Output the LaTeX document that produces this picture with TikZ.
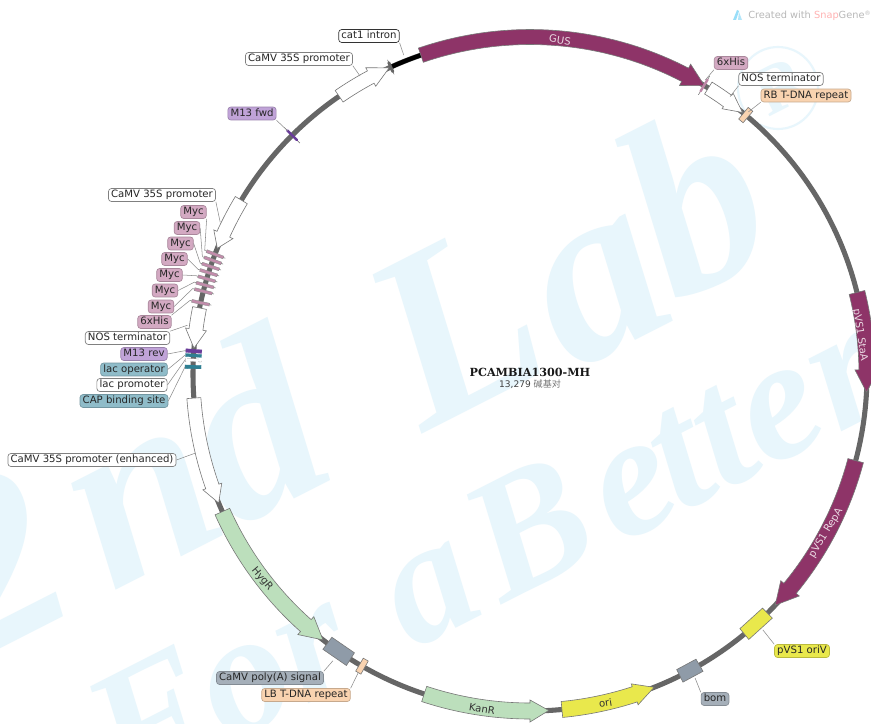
\documentclass[tikz,border=0pt]{standalone}
\usepackage{fontspec}
\setmainfont{DejaVu Sans}
\newfontfamily\cjkf{Noto Sans CJK SC}
\newfontfamily\titlef{DejaVu Serif}
\newfontfamily\wmf{Liberation Serif}
\definecolor{ringc}{HTML}{666666}
\definecolor{edgec}{HTML}{777777}
\definecolor{plumc}{HTML}{8E3468}
\definecolor{greenc}{HTML}{BCDFBC}
\definecolor{yellowc}{HTML}{E9E84C}
\definecolor{slatec}{HTML}{8F9BA8}
\definecolor{pinkc}{HTML}{D3A9C2}
\definecolor{purplec}{HTML}{C0A3D8}
\definecolor{darkpurple}{HTML}{6A3D9A}
\definecolor{tealc}{HTML}{8FBCC9}
\definecolor{darkteal}{HTML}{2F7F92}
\definecolor{tanc}{HTML}{F9D3B0}
\definecolor{wmc}{HTML}{E8F6FC}
\tikzset{
  lab/.style={rounded corners=2.2pt,draw=#1!80!black,fill=#1,line width=0.5pt,inner xsep=2pt,inner ysep=1.2pt,font=\fontsize{7.6}{9}\selectfont,text=black!85,text height=5.8pt,text depth=1.5pt},
  wlab/.style={lab=white,draw=black!50},
  blacklab/.style={lab=white,draw=black!80},
  leader/.style={draw=black!45,line width=0.4pt},
  body/.style={draw=edgec,line width=0.45pt},
  ontext/.style={font=\fontsize{7.6}{9}\selectfont},
  wm/.style={text=wmc,inner sep=0pt}
}
\def\Rr{337}
% #1 start, #2 end, #3 head degrees (signed), #4 half width, #5 wing half width, #6 style
\newcommand\fArrow[6]{%
  \pgfmathsetmacro\bone{#2-(#3)}%
  \pgfmathsetmacro\ro{\Rr+#4}\pgfmathsetmacro\ri{\Rr-#4}%
  \pgfmathsetmacro\wo{\Rr+#5}\pgfmathsetmacro\wi{\Rr-#5}%
  \draw[#6] plot[domain=#1:\bone,samples=40] (\x:\ro) -- (\bone:\wo) -- (#2:\Rr) -- (\bone:\wi) -- plot[domain=\bone:#1,samples=40] (\x:\ri) -- cycle;}
\newcommand\fBand[4]{%
  \pgfmathsetmacro\ro{\Rr+#3}\pgfmathsetmacro\ri{\Rr-#3}%
  \draw[#4] (#1:\ro) -- (#2:\ro) -- (#2:\ri) -- (#1:\ri) -- cycle;}
\newcommand\fTick[4]{% angle, half length, colour, thickness
  \pgfmathsetmacro\ro{\Rr+#2}\pgfmathsetmacro\ri{\Rr-#2}%
  \pgfmathsetmacro\ra{\Rr+#2*0.62}\pgfmathsetmacro\rb{\Rr-#2*0.62}%
  \draw[black!60,line width=0.35pt] (#1:\ro) -- (#1:\ri);
  \draw[#3,line width=#4,line cap=round] (#1:\ra) -- (#1:\rb);}
\newcommand\fMyc[1]{%
  \pgfmathsetmacro\ro{\Rr+11}\pgfmathsetmacro\ri{\Rr-11}%
  \draw[black!60,line width=0.35pt] (#1:\ro) -- (#1:\ri);
  \pgfmathsetmacro\au{#1+0.25}\pgfmathsetmacro\ad{#1-0.25}%
  \fBand{\au}{\ad}{9}{fill=pinkc!75!plumc,draw=black!45,line width=0.25pt}}
\begin{document}
\begin{tikzpicture}[x=0.75pt,y=-0.75pt]
\useasboundingbox (0,0) rectangle (871,724);
\clip (0,0) rectangle (871,724);
\fill[white] (0,0) rectangle (871,724);
% watermark
\node[wm,anchor=base west,rotate=27,font=\wmf\bfseries\itshape\fontsize{188}{188}\selectfont] (wmone) at (-27,663) {2\hspace{22pt}n\hspace{-2pt}d\hspace{20pt} L\hspace{5pt}\raisebox{-10pt}{a}\hspace{-2pt}b};
\node[wm,anchor=base west,rotate=27,font=\wmf\bfseries\itshape\fontsize{130}{130}\selectfont] (wmtwo) at (125,797) {For\hspace{7pt} a\hspace{-22pt} B\hspace{12pt}e\hspace{-6pt}t\hspace{0pt}t\hspace{0pt}e\hspace{3pt}r};
\draw[wmc,line width=1.6pt] (778,88) circle[x radius=40,y radius=41];
\node[wm,rotate=27,font=\wmf\bfseries\fontsize{52}{52}\selectfont] (wmr) at (780,86) {R};
% credit
\path[fill=cyan!40] (733,20) -- (737,10) -- (739,11) -- (736,20) -- cycle;
\path[fill=cyan!30] (739,12) -- (742,20) -- (738,20) -- cycle;
\node[anchor=west,inner sep=0pt,font=\fontsize{7.35}{9}\selectfont,text=black!28] (credit) at (748,15.5) {Created with \textcolor{red!30}{Snap}Gene\raisebox{2pt}{\fontsize{4.5}{5}\selectfont ®}};
% map
\begin{scope}[shift={(530,374)}]
\draw[ringc,line width=3.8pt] plot[domain=0:360,samples=361] (\x:\Rr) -- cycle;
\draw[black,line width=3.3pt] plot[domain=245.7:251.4,samples=10] (\x:\Rr);
% arrows
\fArrow{251.1}{301.2}{3.8}{7.5}{12}{body,fill=plumc}
\fArrow{-14}{3.07}{3.8}{8}{12}{body,fill=plumc}
\fArrow{14.9}{43.3}{3.8}{8}{12}{body,fill=plumc}
\fArrow{155.9}{127.9}{-3.8}{8}{12}{body,fill=greenc}
\fArrow{108.3}{86.8}{-3.2}{8}{11}{body,fill=greenc}
\fArrow{84.56}{68.4}{-3.5}{8}{11}{body,fill=yellowc}
\fArrow{235.5}{245.3}{3.5}{7}{10.5}{body,fill=white}
\fArrow{211.06}{201.9}{-2.6}{7}{10.5}{body,fill=white}
\fArrow{191.3}{184.4}{-3.2}{7}{10.5}{body,fill=white}
\fArrow{175.9}{157.5}{-3.0}{7}{10}{body,fill=white}
\fArrow{301.95}{309.1}{3.2}{7}{9.5}{body,fill=white}
% boxes
\fBand{126.96}{122.2}{7.5}{body,fill=slatec}
\fBand{63.6}{59.8}{7}{body,fill=slatec}
\fBand{50.5}{45.2}{7}{body,fill=yellowc}
\fBand{120.4}{119.4}{7.5}{body,fill=tanc}
\fBand{310.3}{309.3}{7.5}{body,fill=tanc}
% narrow marks
\fTick{225.1}{11}{darkpurple}{1.8pt}
\fTick{245.6}{8}{ringc}{2.2pt}
\fTick{301.1}{11}{pinkc!70!plumc}{1.8pt}
\foreach \a in {200.8,199.7,198.6,197.5,196.4,195.3,194.2,192.2}{\fMyc{\a}}
\fBand{184.2}{183.6}{8}{draw=darkpurple,fill=darkpurple,line width=0.2pt}
\fBand{183.4}{182.9}{8}{draw=darkteal,fill=darkteal,line width=0.2pt}
\fBand{182.6}{182.1}{8}{draw=black!45,fill=white,line width=0.2pt,dashed}
\fBand{181.5}{180.9}{8}{draw=darkteal,fill=darkteal,line width=0.2pt}
% leader targets
\coordinate (pcat) at (248.4:343);
\coordinate (ppa) at (240.3:343);
\coordinate (pfwd) at (225.1:343);
\coordinate (ppb) at (206.1:345);
\foreach \a/\n in {200.8/a,199.7/b,198.6/c,197.5/d,196.4/e,195.3/f,194.2/g,192.2/h}{\coordinate (pm\n) at (\a:348);}
\coordinate (pnl) at (188.1:346);
\coordinate (prev) at (183.9:345);
\coordinate (pop) at (183.2:345);
\coordinate (pprom) at (182.4:345);
\coordinate (pcap) at (181.2:345);
\coordinate (penh) at (166.7:344);
\coordinate (phisr) at (300.8:342);
\coordinate (pnr) at (305.8:342);
\coordinate (prb) at (309.8:341);
\coordinate (ppoly) at (124.5:348);
\coordinate (plb) at (119.9:345);
\coordinate (porv) at (47.7:346);
\coordinate (pbom) at (61.5:346);
\end{scope}
% labels
\node[blacklab] (lcat) at (369,36) {cat1 intron};
\node[wlab] (lpa) at (299,59) {CaMV 35S promoter};
\node[lab=purplec] (lfwd) at (252,113.5) {M13 fwd};
\node[wlab] (lpb) at (162,195) {CaMV 35S promoter};
\node[lab=pinkc] (lma) at (193.5,212) {Myc};
\node[lab=pinkc] (lmb) at (187,228) {Myc};
\node[lab=pinkc] (lmc) at (180.5,243.5) {Myc};
\node[lab=pinkc] (lmd) at (174.5,259) {Myc};
\node[lab=pinkc] (lme) at (169.5,275) {Myc};
\node[lab=pinkc] (lmf) at (165,290.5) {Myc};
\node[lab=pinkc] (lmg) at (161,306.5) {Myc};
\node[lab=pinkc] (lmh) at (154.5,322) {6xHis};
\node[wlab] (lnl) at (127.5,338) {NOS terminator};
\node[lab=purplec] (lrev) at (144,354) {M13 rev};
\node[lab=tealc] (lop) at (134,369.5) {lac operator};
\node[wlab] (lprom) at (132,385) {lac promoter};
\node[lab=tealc] (lcap) at (124,401) {CAP binding site};
\node[wlab] (lenh) at (92,460) {CaMV 35S promoter (enhanced)};
\node[lab=pinkc] (lhisr) at (731,63) {6xHis};
\node[wlab] (lnr) at (781,79) {NOS terminator};
\node[lab=tanc] (lrb) at (806,95.5) {RB T-DNA repeat};
\node[lab=slatec!80!white] (lpoly) at (270,678) {CaMV poly(A) signal};
\node[lab=tanc] (llb) at (306,695) {LB T-DNA repeat};
\node[lab=yellowc] (lorv) at (802,651) {pVS1 oriV};
\node[lab=slatec!80!white] (lbom) at (715,699) {bom};
\foreach \l/\p in {lcat.south east/pcat,lpa.south east/ppa,lfwd.south east/pfwd,lpb.south east/ppb,lma.south east/pma,lmb.east/pmb,lmc.east/pmc,lmd.east/pmd,lme.east/pme,lmf.east/pmf,lmg.east/pmg,lmh.north east/pmh,lnl.north east/pnl,lrev.east/prev,lop.east/pop,lprom.east/pprom,lcap.east/pcap,lenh.east/penh,lhisr.south west/phisr,lnr.south west/pnr,lrb.south west/prb,lpoly.north east/ppoly,llb.north east/plb,lorv.north west/porv,lbom.north west/pbom}{\draw[leader] (\l) -- (\p);}
% on-feature labels
\node[ontext,text=white!82!plumc,rotate=-9] (tgus) at (560,40) {GUS};
\node[ontext,text=white!82!plumc,rotate=-81.5] (tsta) at (860,335) {pVS1 StaA};
\node[ontext,text=white!82!plumc,rotate=59] (trep) at (826,533) {pVS1 RepA};
\node[ontext,text=black!80,rotate=-50] (thyg) at (262,579) {HygR};
\node[ontext,text=black!80,rotate=-9] (tkan) at (482,709) {KanR};
\node[ontext,text=black!80,rotate=9] (tori) at (605.5,703) {ori};
% title
\node[font=\titlef\bfseries\fontsize{8.4}{10}\selectfont,text=black!90] (title) at (530,372) {PCAMBIA1300-MH};
\node[font=\fontsize{6.8}{8}\selectfont,text=black!75] (size) at (530,384.5) {13,279 {\cjkf\color{black!55} 碱基对}};
\end{tikzpicture}
\end{document}
